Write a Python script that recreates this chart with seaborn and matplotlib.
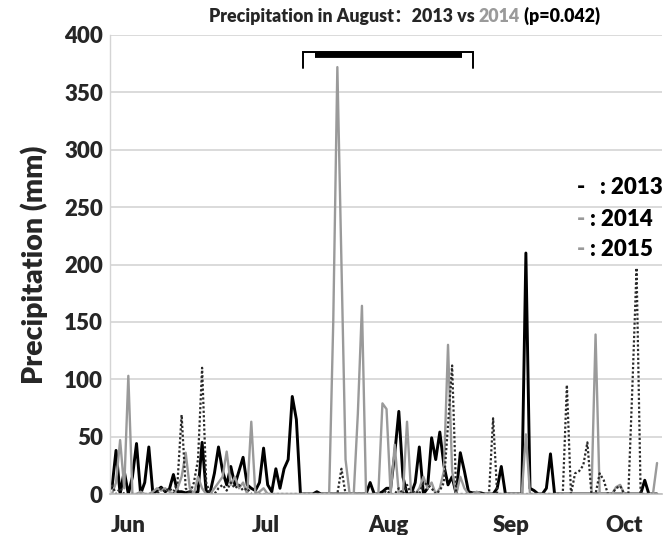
import matplotlib
matplotlib.use("Agg")
import numpy as np
import pandas as pd
import seaborn as sns
import matplotlib.pyplot as plt

# ---- data (daily precipitation, mm), day 0 = 1 June ----
y2013 = [
    5, 38, 0, 20, 0, 15, 44, 0, 10, 41,
    0, 3, 6, 2, 4, 17, 2, 2, 1, 2,
    1, 2, 45, 2, 2, 18, 41, 20, 8, 24,
    8, 20, 32, 8, 5, 3, 10, 40, 8, 2,
    22, 5, 22, 30, 85, 65, 0, 0, 0, 0,
    2, 0, 0, 0, 0, 0, 0, 0, 0, 0,
    0, 0, 0, 10, 0, 0, 2, 5, 5, 35,
    72, 15, 0, 0, 10, 41, 0, 5, 49, 30,
    54, 25, 8, 15, 0, 36, 20, 2, 1, 1,
    1, 0, 0, 0, 5, 24, 0, 0, 0, 0,
    0, 210, 5, 3, 0, 0, 5, 35, 0, 0,
    0, 0, 0, 0, 0, 0, 0, 0, 0, 0,
    0, 0, 0, 0, 0, 0, 0, 0, 0, 0,
    12, 0, 0, 0]
y2014 = [
    0, 10, 47, 5, 103, 0, 0, 2, 0, 0,
    2, 5, 3, 5, 2, 0, 5, 15, 36, 5,
    0, 15, 5, 0, 0, 5, 10, 15, 37, 8,
    15, 5, 10, 0, 63, 0, 2, 5, 0, 0,
    0, 0, 0, 0, 0, 0, 0, 0, 0, 0,
    0, 0, 0, 0, 150, 372, 200, 30, 0, 0,
    70, 164, 0, 0, 0, 0, 79, 74, 0, 43,
    0, 0, 63, 0, 0, 5, 15, 5, 10, 0,
    5, 20, 130, 20, 0, 15, 5, 0, 0, 2,
    0, 0, 0, 0, 0, 0, 0, 0, 0, 0,
    0, 52, 0, 0, 0, 0, 0, 0, 0, 0,
    0, 0, 0, 0, 0, 0, 0, 0, 139, 0,
    0, 0, 0, 6, 8, 0, 0, 0, 0, 0,
    0, 0, 0, 27]
y2015 = [
    8, 0, 5, 0, 0, 0, 0, 0, 0, 0,
    0, 0, 5, 2, 5, 2, 10, 69, 5, 0,
    10, 30, 110, 10, 0, 0, 5, 8, 3, 10,
    5, 8, 3, 5, 0, 0, 0, 0, 0, 0,
    0, 0, 0, 0, 0, 0, 0, 0, 0, 0,
    0, 0, 0, 0, 0, 0, 22, 0, 0, 0,
    0, 0, 0, 0, 0, 0, 0, 3, 0, 0,
    5, 0, 8, 0, 3, 0, 10, 8, 5, 0,
    3, 10, 60, 112, 0, 0, 0, 0, 0, 0,
    0, 0, 0, 66, 0, 0, 0, 0, 0, 0,
    0, 0, 0, 0, 0, 0, 0, 0, 0, 0,
    0, 95, 0, 18, 20, 25, 45, 0, 0, 18,
    12, 0, 0, 5, 7, 0, 0, 95, 197, 0,
    0, 0, 0, 0]
years = ["2013", "2014", "2015"]
month_labels = ["Jun", "Jul", "Aug", "Sep", "Oct"]
month_ticks = [4, 37.5, 67.5, 97.5, 125]
y_ticks = list(range(0, 401, 50))

days = np.arange(len(y2013))
df = pd.DataFrame({
    "day": np.tile(days, 3),
    "mm": y2013 + y2014 + y2015,
    "year": np.repeat(years, len(days)),
})

sns.set_theme(style="white")
plt.rcParams["font.family"] = ["Lato", "Noto Sans CJK SC", "DejaVu Sans"]
plt.rcParams["font.weight"] = "bold"

fig = plt.figure(figsize=(6.7, 5.35), dpi=100)
ax = fig.add_axes([0.164, 0.0766, 0.824, 0.858])

ax.grid(axis="y", color="#d4d4d4", lw=1.2)
ax.set_axisbelow(True)

styles = {
    "2013": dict(color="black", lw=2.1, ls="-"),
    "2014": dict(color="#9a9a9a", lw=1.7, ls="-"),
    "2015": dict(color="#2a2a2a", lw=1.6, ls=(0, (1, 1))),
}
for yr in years:
    sns.lineplot(data=df[df["year"] == yr], x="day", y="mm", ax=ax,
                 legend=False, **styles[yr])

ax.set_xlim(-0.5, 134.2)
ax.set_ylim(0, 400)
ax.set_yticks(y_ticks)
ax.set_yticklabels([str(v) for v in y_ticks], fontsize=16, fontweight="heavy")
ax.set_xticks(month_ticks)
ax.set_xticklabels(month_labels, fontsize=16, fontweight="heavy")
ax.tick_params(axis="x", length=0, pad=15)
ax.tick_params(axis="y", length=0, pad=5)
ax.set_xlabel("")
ax.set_ylabel("")
for s in ["top", "right"]:
    ax.spines[s].set_visible(False)
ax.spines["left"].set_color("#d4d4d4")
ax.spines["left"].set_linewidth(1.0)
ax.spines["bottom"].set_color("#bdbdbd")
ax.spines["bottom"].set_linewidth(1.2)

fig.text(34 / 670, 1 - 265 / 535, "Precipitation (mm)", rotation=90,
         ha="center", va="center", fontsize=20.5, fontweight="heavy")

# title with coloured year
tfs = 12.8
t1 = fig.text(209 / 670, 1 - 22 / 535, "Precipitation in August：2013 vs ",
              ha="left", va="baseline", fontsize=tfs, fontweight="heavy")
t2 = ax.annotate("2014", xy=(1, 0), xycoords=t1, ha="left", va="bottom",
                 fontsize=tfs, fontweight="heavy", color="#9a9a9a")
t3 = ax.annotate(" (p=0.042)", xy=(1, 0), xycoords=t2, ha="left", va="bottom",
                 fontsize=tfs, fontweight="heavy", color="black")

# significance bracket
ax.plot([46.6, 46.6, 88.0, 88.0], [371, 385, 385, 371], color="black",
        lw=1.4, clip_on=False, solid_joinstyle="miter")
ax.plot([49.5, 85.4], [382.5, 382.5], color="black", lw=4.2, clip_on=False,
        solid_capstyle="butt")

# custom legend text
lfs = 16
fig.text(577 / 670, 1 - 188 / 535, "-", ha="left", va="center",
         fontsize=lfs, fontweight="heavy", color="black")
fig.text(600 / 670, 1 - 188 / 535, ": 2013", ha="left", va="center",
         fontsize=lfs, fontweight="heavy", color="black")
fig.text(577 / 670, 1 - 219 / 535, "-", ha="left", va="center",
         fontsize=lfs, fontweight="heavy", color="#9a9a9a")
fig.text(590 / 670, 1 - 219 / 535, ": 2014", ha="left", va="center",
         fontsize=lfs, fontweight="heavy", color="black")
fig.text(577 / 670, 1 - 249 / 535, "-", ha="left", va="center",
         fontsize=lfs, fontweight="heavy", color="#9a9a9a")
fig.text(590 / 670, 1 - 249 / 535, ": 2015", ha="left", va="center",
         fontsize=lfs, fontweight="heavy", color="black")

fig.savefig("out.png", dpi=100)
